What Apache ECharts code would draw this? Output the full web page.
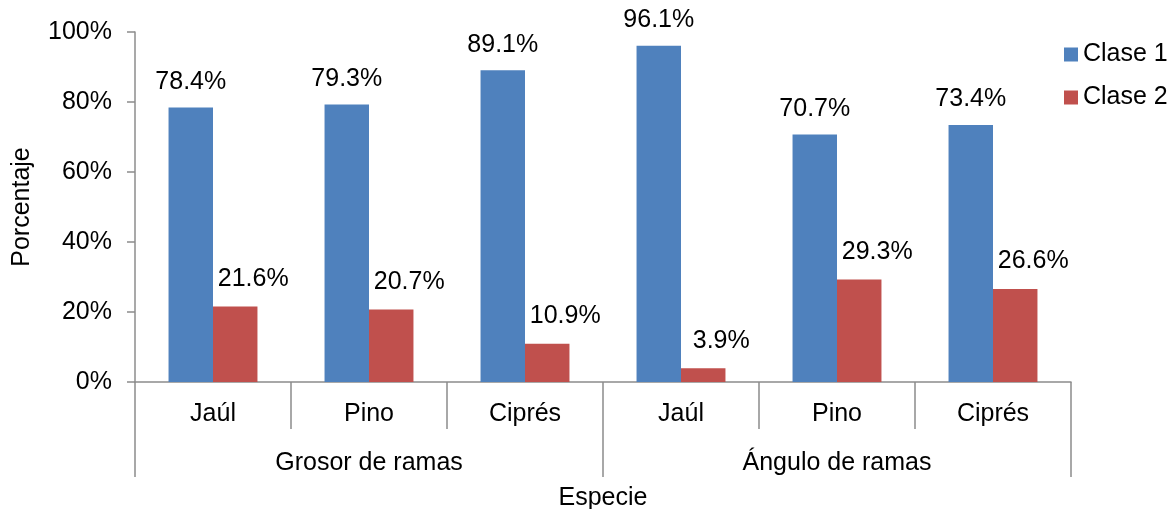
<!DOCTYPE html>
<html>
<head>
<meta charset="utf-8">
<script src="https://cdn.jsdelivr.net/npm/echarts@6/dist/echarts.min.js"></script>
<style>
html, body { margin: 0; padding: 0; background: #fff; }
#chart { width: 1176px; height: 509px; }
</style>
</head>
<body>
<div id="chart"></div>
<script>
// datos
const especies = ['Jaúl', 'Pino', 'Ciprés', 'Jaúl', 'Pino', 'Ciprés'];
const grupos = ['Grosor de ramas', 'Ángulo de ramas'];
const clase1 = [78.4, 79.3, 89.1, 96.1, 70.7, 73.4];
const clase2 = [21.6, 20.7, 10.9, 3.9, 29.3, 26.6];

const font = 'Liberation Sans, Arial, sans-serif';
const gris = '#8c8c8c';
const fs = 25;

const chart = echarts.init(document.getElementById('chart'));
chart.setOption({
  animation: false,
  textStyle: { fontFamily: font, color: '#000' },
  grid: { left: 135, right: 105, top: 32, bottom: 127, containLabel: false, outerBoundsMode: 'none' },
  legend: {
    orient: 'vertical',
    left: 1064,
    top: 42,
    padding: 0,
    icon: 'rect',
    itemWidth: 14,
    itemHeight: 14,
    itemGap: 18,
    textStyle: { fontSize: fs, color: '#000', fontFamily: font },
    data: ['Clase 1', 'Clase 2']
  },
  xAxis: [
    {
      type: 'category',
      data: especies,
      position: 'bottom',
      axisLine: { show: true, lineStyle: { color: gris, width: 1.5 } },
      axisTick: { show: true, length: 47, lineStyle: { color: gris, width: 1.5 } },
      axisLabel: { fontSize: fs, color: '#000', margin: 20, fontFamily: font },
      name: 'Especie',
      nameLocation: 'middle',
      nameGap: 104,
      nameTextStyle: { fontSize: fs, color: '#000', fontFamily: font }
    },
    {
      type: 'category',
      data: grupos,
      position: 'bottom',
      axisLine: { show: false },
      axisTick: { show: true, length: 95, lineStyle: { color: gris, width: 1.5 } },
      axisLabel: { fontSize: fs, color: '#000', margin: 69, fontFamily: font },
      splitLine: { show: false }
    }
  ],
  yAxis: {
    type: 'value',
    min: 0,
    max: 100,
    interval: 20,
    axisLine: { show: true, lineStyle: { color: gris, width: 1.5 } },
    axisTick: { show: true, length: 8, lineStyle: { color: gris, width: 1.5 } },
    splitLine: { show: false },
    axisLabel: { formatter: '{value}%', fontSize: fs, color: '#000', margin: 23, fontFamily: font },
    name: 'Porcentaje',
    nameLocation: 'middle',
    nameGap: 100,
    nameTextStyle: { fontSize: fs, color: '#000', fontFamily: font }
  },
  series: [
    {
      name: 'Clase 1',
      type: 'bar',
      xAxisIndex: 0,
      data: clase1,
      barGap: '0%',
      barCategoryGap: '43%',
      itemStyle: { color: '#4F81BD' },
      label: {
        show: true,
        position: 'top',
        distance: 13,
        formatter: p => p.value.toFixed(1) + '%',
        fontSize: fs,
        color: '#000',
        fontFamily: font
      }
    },
    {
      name: 'Clase 2',
      type: 'bar',
      xAxisIndex: 0,
      data: clase2,
      barGap: '0%',
      barCategoryGap: '43%',
      itemStyle: { color: '#C0504D' },
      label: {
        show: true,
        position: 'top',
        distance: 15,
        offset: [18, 0],
        formatter: p => p.value.toFixed(1) + '%',
        fontSize: fs,
        color: '#000',
        fontFamily: font
      }
    }
  ]
});
</script>
</body>
</html>
